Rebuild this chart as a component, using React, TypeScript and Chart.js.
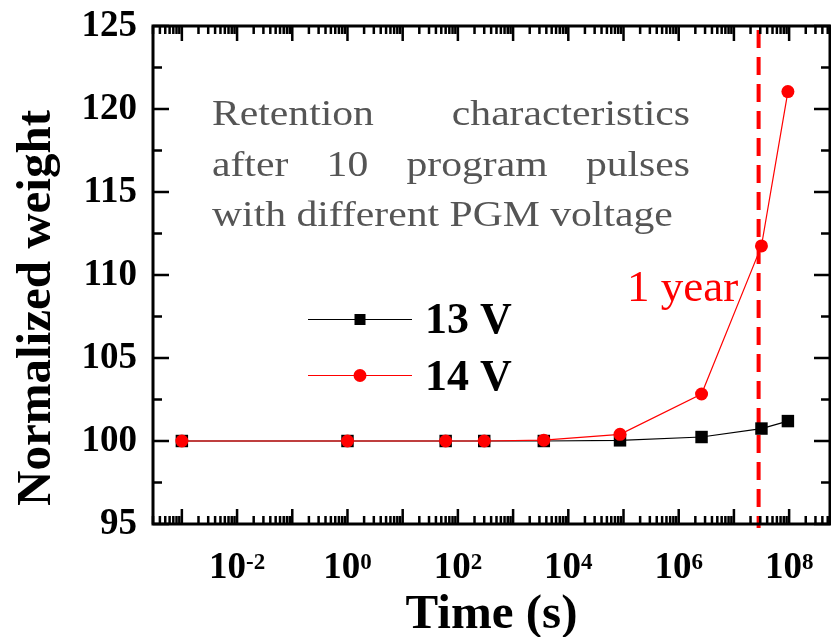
import React, { useEffect, useRef } from 'react';
import { Chart, registerables } from 'chart.js';

Chart.register(...registerables);

// ---- data ----
const timeSeconds = [1e-3, 1, 60, 300, 3600, 86400, 2.592e6, 3.1536e7, 9.5e7];
const weight13V = [100, 100, 100, 100, 100, 100.04, 100.24, 100.75, 101.2];
const weight14V = [100, 100, 100, 100, 100.05, 100.4, 102.83, 111.75, 121.05];
const seriesLabels = ['13 V', '14 V'];
const xTickExponents = [-2, 0, 2, 4, 6, 8];
const yTicks = [95, 100, 105, 110, 115, 120, 125];
const oneYearMarker = 2.8e7;
const oneYearText = '1 year';
const noteLines = [
  'Retention characteristics',
  'after 10 program pulses',
  'with different PGM voltage',
];
const xTitle = 'Time (s)';
const yTitle = 'Normalized weight';

const SERIF = '"Liberation Serif", "Times New Roman", serif';

const zeroPad = (s: any) => {
  s.paddingTop = 0;
  s.paddingBottom = 0;
  s.paddingLeft = 0;
  s.paddingRight = 0;
};

const overlay = {
  id: 'overlay',
  beforeDatasetsDraw(chart: any) {
    const { ctx, chartArea, scales } = chart;
    const px = scales.x.getPixelForValue(oneYearMarker);
    ctx.save();
    ctx.strokeStyle = '#ff0000';
    ctx.lineWidth = 4;
    ctx.setLineDash([18, 9]);
    ctx.beginPath();
    ctx.moveTo(px, chartArea.top + 4);
    ctx.lineTo(px, chartArea.bottom + 4);
    ctx.stroke();
    ctx.restore();
  },
  afterDraw(chart: any) {
    const { ctx, chartArea, scales } = chart;
    const { left, right, top, bottom } = chartArea;
    const xs = scales.x;
    const ys = scales.y;
    ctx.save();
    // frame
    ctx.strokeStyle = '#000';
    ctx.lineWidth = 3;
    ctx.strokeRect(left, top, right - left, bottom - top);

    // x ticks
    ctx.lineWidth = 2.5;
    const xmin = xs.min, xmax = xs.max;
    const drawX = (v: number, len: number) => {
      const p = xs.getPixelForValue(v);
      ctx.beginPath();
      ctx.moveTo(p, bottom);
      ctx.lineTo(p, bottom - len);
      ctx.moveTo(p, top);
      ctx.lineTo(p, top + len);
      ctx.stroke();
    };
    for (let d = -4; d <= 8; d++) {
      const base = Math.pow(10, d);
      if (base >= xmin && base <= xmax) drawX(base, 15);
      for (let k = 2; k <= 9; k++) {
        const v = base * k;
        if (v >= xmin && v <= xmax) drawX(v, 8);
      }
    }
    // y ticks
    const drawY = (v: number, len: number) => {
      const p = ys.getPixelForValue(v);
      ctx.beginPath();
      ctx.moveTo(left, p);
      ctx.lineTo(left + len, p);
      ctx.moveTo(right, p);
      ctx.lineTo(right - len, p);
      ctx.stroke();
    };
    yTicks.forEach((v) => drawY(v, 16));
    for (let i = 0; i < yTicks.length - 1; i++) drawY((yTicks[i] + yTicks[i + 1]) / 2, 9);

    // x tick labels with superscripts
    ctx.fillStyle = '#000';
    ctx.textBaseline = 'alphabetic';
    ctx.textAlign = 'left';
    xTickExponents.forEach((e) => {
      const p = xs.getPixelForValue(Math.pow(10, e));
      ctx.font = `bold 37px ${SERIF}`;
      const wBase = ctx.measureText('10').width;
      ctx.font = `bold 23px ${SERIF}`;
      const expStr = e < 0 ? '-' + Math.abs(e) : String(e);
      const wExp = ctx.measureText(expStr).width;
      const start = p - (wBase + wExp) / 2;
      ctx.font = `bold 37px ${SERIF}`;
      ctx.fillText('10', start, 578);
      ctx.font = `bold 23px ${SERIF}`;
      ctx.fillText(expStr, start + wBase, 569);
    });

    // axis titles
    ctx.font = `bold 49px ${SERIF}`;
    ctx.textAlign = 'center';
    ctx.fillText(xTitle, (left + right) / 2, 628);
    ctx.save();
    ctx.translate(50, 308);
    ctx.rotate(-Math.PI / 2);
    ctx.fillText(yTitle, 0, 0);
    ctx.restore();

    // note text (justified, horizontally stretched)
    const sx = 1.19;
    const noteLeft = 212, noteRight = 690;
    const baselines = [125, 175.5, 226];
    ctx.fillStyle = '#555555';
    ctx.font = `35px ${SERIF}`;
    ctx.textAlign = 'left';
    noteLines.forEach((line, i) => {
      ctx.save();
      ctx.translate(noteLeft, baselines[i]);
      ctx.scale(sx, 1);
      if (i < noteLines.length - 1) {
        const words = line.split(' ');
        const widths = words.map((w) => ctx.measureText(w).width);
        const total = widths.reduce((a, b) => a + b, 0);
        const avail = (noteRight - noteLeft) / sx;
        const gap = (avail - total) / (words.length - 1);
        let x = 0;
        words.forEach((w, j) => {
          ctx.fillText(w, x, 0);
          x += widths[j] + gap;
        });
      } else {
        ctx.fillText(line, 0, 0);
      }
      ctx.restore();
    });

    // 1 year label
    ctx.fillStyle = '#ff0000';
    ctx.font = `45px ${SERIF}`;
    ctx.fillText(oneYearText, 627, 301);

    // legend
    const rows = [
      { y: 319, color: '#000000', shape: 'rect', label: seriesLabels[0], base: 333 },
      { y: 375, color: '#ff0000', shape: 'circle', label: seriesLabels[1], base: 390 },
    ];
    rows.forEach((r) => {
      ctx.strokeStyle = r.color;
      ctx.fillStyle = r.color;
      ctx.lineWidth = 1;
      ctx.beginPath();
      ctx.moveTo(308, r.y + 0.5);
      ctx.lineTo(412, r.y + 0.5);
      ctx.stroke();
      if (r.shape === 'rect') {
        ctx.fillRect(360 - 5.5, r.y - 5, 11, 11);
      } else {
        ctx.beginPath();
        ctx.arc(360, r.y + 0.5, 6.5, 0, Math.PI * 2);
        ctx.fill();
      }
      ctx.fillStyle = '#000';
      ctx.font = `bold 44px ${SERIF}`;
      ctx.fillText(r.label, 425, r.base);
    });
    ctx.restore();
  },
};

export default function App() {
  const ref = useRef<HTMLCanvasElement | null>(null);
  useEffect(() => {
    if (!ref.current) return;
    const chart = new Chart(ref.current, {
      type: 'line',
      data: {
        datasets: [
          {
            label: seriesLabels[1],
            data: timeSeconds.map((t, i) => ({ x: t, y: weight14V[i] })),
            borderColor: '#ff0000',
            backgroundColor: '#ff0000',
            borderWidth: 1.2,
            pointStyle: 'circle',
            pointRadius: 6.5,
            pointBorderWidth: 0,
            tension: 0,
            order: 0,
          },
          {
            label: seriesLabels[0],
            data: timeSeconds.map((t, i) => ({ x: t, y: weight13V[i] })),
            borderColor: '#000000',
            backgroundColor: '#000000',
            borderWidth: 1.2,
            pointStyle: 'rect',
            pointRadius: 8.8,
            pointBorderWidth: 0,
            tension: 0,
            order: 1,
          },
        ],
      },
      options: {
        animation: false,
        responsive: false,
        devicePixelRatio: 1,
        layout: { autoPadding: false, padding: { top: 26, right: 1, left: 0, bottom: 0 } },
        plugins: { legend: { display: false }, tooltip: { enabled: false } },
        scales: {
          x: {
            type: 'logarithmic',
            min: 3.25e-4,
            max: 5.5e8,
            ticks: { display: false },
            grid: { display: false, drawTicks: false },
            border: { display: false },
            afterFit: (s: any) => { s.height = 113; zeroPad(s); },
          },
          y: {
            type: 'linear',
            min: 95,
            max: 125,
            ticks: {
              stepSize: 5,
              color: '#000',
              padding: 16,
              font: { family: SERIF, size: 37, weight: 'bold' },
            },
            grid: { display: false, drawTicks: false },
            border: { display: false },
            afterFit: (s: any) => { s.width = 153; zeroPad(s); },
          },
        },
      } as any,
      plugins: [overlay],
    });
    return () => chart.destroy();
  }, []);
  return (
    <div style={{ position: 'fixed', left: 0, top: 0, width: 831, height: 637, background: '#fff' }}>
      <canvas ref={ref} width={831} height={637} />
    </div>
  );
}
